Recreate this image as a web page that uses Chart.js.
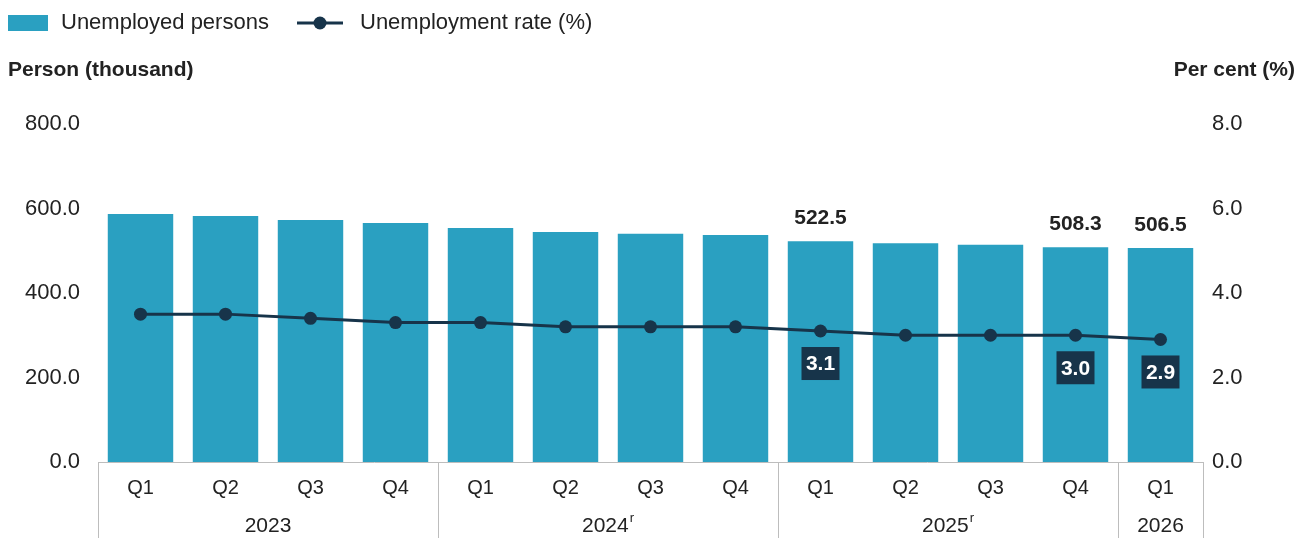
<!DOCTYPE html>
<html>
<head>
<meta charset="utf-8">
<script src="https://cdn.jsdelivr.net/npm/chart.js@4/dist/chart.umd.min.js"></script>
<style>
  html, body { margin: 0; padding: 0; background: #fff; }
  #wrap { width: 1306px; height: 538px; position: relative; }
</style>
</head>
<body>
<div id="wrap"><canvas id="chart" width="1306" height="538"></canvas></div>
<script>
// --- data ---
const quarters = ["Q1","Q2","Q3","Q4","Q1","Q2","Q3","Q4","Q1","Q2","Q3","Q4","Q1"];
const yearLabels = ["2023", "2024", "2025", "2026"];
const yearSup = ["", "r", "r", ""];
const yearSpans = [4, 4, 4, 1];
const unemployed = [587.0, 582.0, 573.0, 565.5, 554.0, 544.5, 540.0, 537.0, 522.5, 518.0, 514.0, 508.3, 506.5];
const rate = [3.5, 3.5, 3.4, 3.3, 3.3, 3.2, 3.2, 3.2, 3.1, 3.0, 3.0, 3.0, 2.9];
const labelled = [8, 11, 12]; // points that carry value labels

const FONT = '"Liberation Sans", Arial, sans-serif';
const BAR = "#2aa0c1";
const NAVY = "#17344a";
const TEXT = "#222";
const RULE = "#bdbdbd";

// legend, axis titles, two-level x labels and the value labels
const decor = {
    id: "decor",
    afterDraw(chart) {
        const ctx = chart.ctx;
        const area = chart.chartArea;
        const x = chart.scales.x;
        ctx.save();

        // legend
        ctx.fillStyle = BAR;
        ctx.fillRect(8, 15, 40, 16);
        ctx.font = "22px " + FONT;
        ctx.fillStyle = TEXT;
        ctx.textBaseline = "middle";
        ctx.textAlign = "left";
        ctx.fillText("Unemployed persons", 61, 23);
        ctx.strokeStyle = NAVY;
        ctx.lineWidth = 3;
        ctx.beginPath();
        ctx.moveTo(297, 23);
        ctx.lineTo(343, 23);
        ctx.stroke();
        ctx.fillStyle = NAVY;
        ctx.beginPath();
        ctx.arc(320, 23, 6.5, 0, Math.PI * 2);
        ctx.fill();
        ctx.fillStyle = TEXT;
        ctx.fillText("Unemployment rate (%)", 360, 23);

        // axis titles
        ctx.font = "bold 21px " + FONT;
        ctx.fillText("Person (thousand)", 8, 70);
        ctx.textAlign = "right";
        ctx.fillText("Per cent (%)", 1295, 70);

        // x axis: separators
        const bottom = chart.height;
        const top = area.bottom;
        const cuts = [area.left];
        let idx = 0;
        yearSpans.forEach((n, k) => {
            idx += n;
            if (k < yearSpans.length - 1) {
                cuts.push((x.getPixelForValue(idx - 1) + x.getPixelForValue(idx)) / 2);
            }
        });
        cuts.push(area.right);
        ctx.strokeStyle = RULE;
        ctx.lineWidth = 1;
        cuts.forEach(c => {
            ctx.beginPath();
            ctx.moveTo(Math.round(c) + 0.5, top);
            ctx.lineTo(Math.round(c) + 0.5, bottom);
            ctx.stroke();
        });

        // quarter labels
        ctx.fillStyle = TEXT;
        ctx.font = "20px " + FONT;
        ctx.textAlign = "center";
        quarters.forEach((q, i) => {
            ctx.fillText(q, x.getPixelForValue(i), top + 26);
        });

        // year labels (with superscript r)
        yearLabels.forEach((y, k) => {
            const mid = (cuts[k] + cuts[k + 1]) / 2;
            ctx.font = "21px " + FONT;
            const w1 = ctx.measureText(y).width;
            ctx.font = "13px " + FONT;
            const w2 = yearSup[k] ? ctx.measureText(yearSup[k]).width + 1 : 0;
            const start = mid - (w1 + w2) / 2;
            ctx.textAlign = "left";
            ctx.font = "21px " + FONT;
            ctx.fillText(y, start, top + 64);
            if (yearSup[k]) {
                ctx.font = "13px " + FONT;
                ctx.fillText(yearSup[k], start + w1 + 1, top + 56);
            }
        });

        // value labels
        const barMeta = chart.getDatasetMeta(0);
        const lineMeta = chart.getDatasetMeta(1);
        ctx.textAlign = "center";
        labelled.forEach(i => {
            const b = barMeta.data[i];
            ctx.fillStyle = TEXT;
            ctx.font = "bold 21px " + FONT;
            ctx.fillText(unemployed[i].toFixed(1), b.x, b.y - 23);

            const p = lineMeta.data[i];
            const boxW = 38, boxH = 33;
            ctx.fillStyle = NAVY;
            ctx.fillRect(p.x - boxW / 2, p.y + 16, boxW, boxH);
            ctx.fillStyle = "#fff";
            ctx.fillText(rate[i].toFixed(1), p.x, p.y + 16 + boxH / 2 + 1);
        });

        ctx.restore();
    }
};

new Chart(document.getElementById("chart"), {
    type: "bar",
    data: {
        labels: quarters,
        datasets: [
            {
                type: "bar",
                label: "Unemployed persons",
                data: unemployed,
                backgroundColor: BAR,
                borderWidth: 0,
                categoryPercentage: 1,
                barPercentage: 0.77,
                yAxisID: "y",
                order: 2
            },
            {
                type: "line",
                label: "Unemployment rate (%)",
                data: rate,
                borderColor: NAVY,
                backgroundColor: NAVY,
                borderWidth: 3,
                pointRadius: 6.5,
                pointBackgroundColor: NAVY,
                pointBorderWidth: 0,
                tension: 0,
                yAxisID: "y1",
                order: 1
            }
        ]
    },
    options: {
        responsive: false,
        animation: false,
        layout: { padding: { top: 124, left: 0, right: 0, bottom: 0 } },
        plugins: {
            legend: { display: false },
            tooltip: { enabled: false }
        },
        scales: {
            x: {
                grid: { display: false },
                border: { display: true, color: RULE },
                ticks: { display: false },
                afterFit: s => { s.height = 76; }
            },
            y: {
                position: "left",
                min: 0,
                max: 800,
                grid: { display: false, drawTicks: false },
                border: { display: false },
                ticks: {
                    stepSize: 200,
                    padding: 18,
                    color: TEXT,
                    font: { family: FONT, size: 22 },
                    callback: v => v.toFixed(1)
                },
                afterFit: s => { s.width = 98; }
            },
            y1: {
                position: "right",
                min: 0,
                max: 8,
                grid: { display: false, drawTicks: false },
                border: { display: false },
                ticks: {
                    stepSize: 2,
                    padding: 9,
                    color: TEXT,
                    font: { family: FONT, size: 22 },
                    callback: v => v.toFixed(1)
                },
                afterFit: s => { s.width = 103; }
            }
        }
    },
    plugins: [decor]
});
</script>
</body>
</html>
